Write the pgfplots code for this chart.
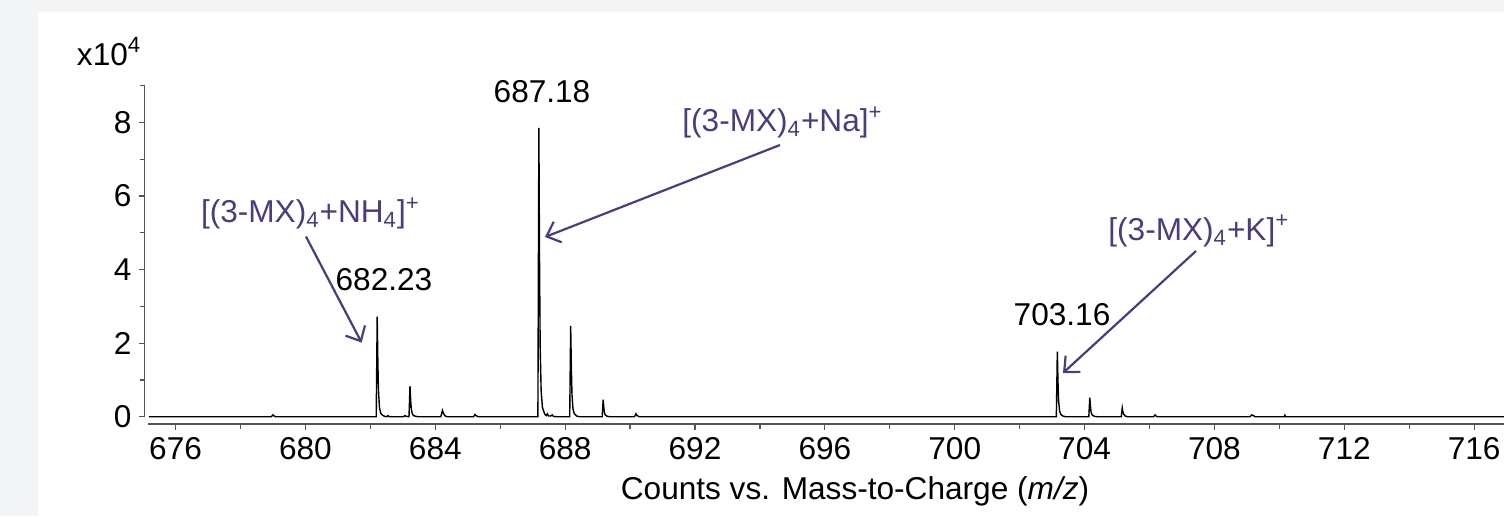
\documentclass[border=0pt]{standalone}
\usepackage{fontspec}
\setmainfont{Liberation Sans}
\usepackage{pgfplots}
\pgfplotsset{compat=1.18}
\usetikzlibrary{arrows.meta}
\definecolor{bgGray}{RGB}{243,244,246}
\definecolor{annPurple}{RGB}{76,60,122}
\definecolor{axGray}{RGB}{85,85,85}
\newcommand{\fs}{\fontsize{15.8bp}{19bp}\selectfont}
\begin{document}
\begin{tikzpicture}[x=1bp,y=1bp]
\fill[bgGray] (0,0) rectangle (752,258);
\fill[white] (19,0) rectangle (752,252);
\begin{axis}[
  at={(74bp,49.65bp)}, anchor=south west,
  scale only axis, width=678bp, height=165.6bp,
  xmin=675.15, xmax=716.92, ymin=0, ymax=9,
  axis x line*=bottom, axis y line*=left,
  axis x line shift=3.7bp, axis y line shift=1.75bp,
  axis line style={axGray, line width=0.7bp},
  every tick/.style={axGray, line width=0.6bp},
  tick align=outside,
  major tick length=3bp, minor tick length=2.2bp,
  xtick={676,680,...,716}, minor xtick={678,682,...,714},
  ytick={0,2,4,6,8}, minor ytick={1,3,5,7,9},
  ticklabel style={font=\fs},
  /pgf/number format/assume math mode=true,
  /pgf/number format/1000 sep={},
  clip=false,
]
\addplot[black, line width=0.7bp] table {
675.18 0
678.95 0
679.00 0.05
679.05 0.01
679.10 0
682.18 0
682.21 2.72
682.23 1.5
682.25 0.7
682.28 0.25
682.32 0.09
682.39 0.03
682.47 0
682.50 0
682.54 0.03
682.58 0
683.02 0
683.06 0.03
683.10 0.01
683.19 0
683.22 0.83
683.24 0.46
683.26 0.21
683.29 0.08
683.33 0.03
683.40 0.01
683.48 0
684.17 0
684.22 0.17
684.25 0.09
684.29 0.03
684.36 0
685.18 0
685.22 0.06
685.27 0.02
685.32 0
687.16 0
687.19 7.85
687.21 4.3
687.23 1.9
687.26 0.7
687.30 0.25
687.37 0.07
687.42 0.03
687.45 0.08
687.49 0.02
687.56 0.02
687.60 0.05
687.64 0.01
687.72 0
688.14 0
688.17 2.47
688.19 1.36
688.21 0.6
688.24 0.22
688.28 0.08
688.35 0.02
688.43 0
689.14 0
689.17 0.46
689.19 0.25
689.21 0.11
689.24 0.04
689.30 0.01
689.38 0
690.14 0
690.18 0.08
690.22 0.03
690.28 0
703.13 0
703.16 1.77
703.18 0.97
703.20 0.43
703.23 0.15
703.27 0.06
703.34 0.015
703.42 0
704.13 0
704.16 0.52
704.18 0.29
704.20 0.12
704.23 0.05
704.30 0.01
704.38 0
705.13 0
705.16 0.24
705.18 0.13
705.21 0.06
705.25 0.02
705.32 0
706.13 0
706.17 0.05
706.21 0.01
706.26 0
709.10 0
709.15 0.05
709.20 0.03
709.25 0
710.15 0
710.17 0.04
710.19 0
716.92 0
};
\end{axis}
\node[font=\fs, anchor=base west, inner sep=0] at (38.3,225.5) {x10\textsuperscript{4}};
\node[font=\fs] at (427.5,12.5) {Counts vs. Mass-to-Charge (\textit{m/z})};
\node[font=\fs] at (271,212) {687.18};
\node[font=\fs] at (192,118) {682.23};
\node[font=\fs] at (531,100.5) {703.16};
\node[font=\fs, text=annPurple, anchor=base west, inner sep=0] at (341,192.2) {[(3-MX)\textsubscript{4}+Na]\textsuperscript{+}};
\node[font=\fs, text=annPurple, anchor=base west, inner sep=0] at (100.3,146.7) {[(3-MX)\textsubscript{4}+NH\textsubscript{4}]\textsuperscript{+}};
\node[font=\fs, text=annPurple, anchor=base west, inner sep=0] at (554,138) {[(3-MX)\textsubscript{4}+K]\textsuperscript{+}};
\draw[annPurple, line width=1.1bp, -{Straight Barb[length=6bp,width=11bp]}] (390,185.5) -- (272.5,139.5);
\draw[annPurple, line width=1.1bp, -{Straight Barb[length=6bp,width=11bp]}] (153,139.7) -- (180.8,86.7);
\draw[annPurple, line width=1.1bp, -{Straight Barb[length=6bp,width=11bp]}] (598,132.5) -- (531.5,71.5);
\pgfresetboundingbox
\path[use as bounding box] (0,0) rectangle (752,258);
\end{tikzpicture}
\end{document}
